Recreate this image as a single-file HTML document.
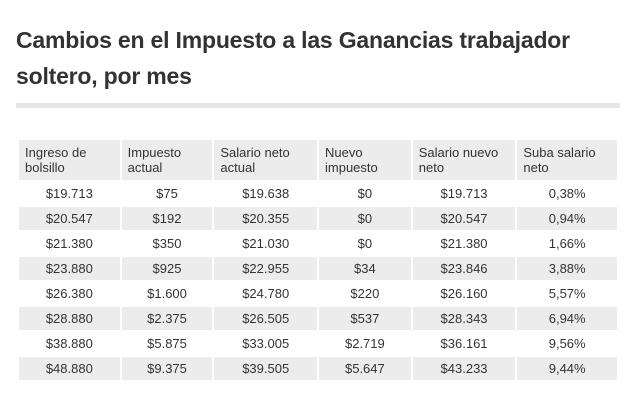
<!DOCTYPE html>
<html><head><meta charset="utf-8"><style>
body{margin:0;background:#fff;width:637px;height:413px;overflow:hidden;font-family:"Liberation Sans",sans-serif;}
h1{position:absolute;left:16px;top:22px;margin:0;font-size:23px;line-height:36px;font-weight:bold;color:#333;width:600px;letter-spacing:-0.2px}
.sep{position:absolute;left:16px;top:103px;width:604px;height:5px;background:#e6e6e6}
table{position:absolute;left:17px;top:138px;width:602px;border-collapse:collapse;font-size:13px;color:#333}
td,th{border:2px solid #fff;padding:0 6px}
th{height:40px;text-align:left;font-weight:normal;background:#ececec;line-height:15px;vertical-align:middle}
td{height:23px;text-align:center}
tr.g td{background:#ececec}
</style></head><body>
<h1>Cambios en el Impuesto a las Ganancias trabajador soltero, por mes</h1>
<div class="sep"></div>
<table>
<colgroup><col style="width:103px"><col style="width:93px"><col style="width:105px"><col style="width:94px"><col style="width:105px"><col style="width:102px"></colgroup>
<thead><tr>
<th>Ingreso de bolsillo</th>
<th>Impuesto actual</th>
<th>Salario neto actual</th>
<th>Nuevo impuesto</th>
<th>Salario nuevo neto</th>
<th>Suba salario neto</th>
</tr></thead>
<tbody id="tb"></tbody>
</table>
<script>
const ingreso=["$19.713","$20.547","$21.380","$23.880","$26.380","$28.880","$38.880","$48.880"];
const impuestoActual=["$75","$192","$350","$925","$1.600","$2.375","$5.875","$9.375"];
const salarioActual=["$19.638","$20.355","$21.030","$22.955","$24.780","$26.505","$33.005","$39.505"];
const nuevoImpuesto=["$0","$0","$0","$34","$220","$537","$2.719","$5.647"];
const salarioNuevo=["$19.713","$20.547","$21.380","$23.846","$26.160","$28.343","$36.161","$43.233"];
const suba=["0,38%","0,94%","1,66%","3,88%","5,57%","6,94%","9,56%","9,44%"];
const tb=document.getElementById('tb');
const cols=[ingreso,impuestoActual,salarioActual,nuevoImpuesto,salarioNuevo,suba];
for(let i=0;i<ingreso.length;i++){
const tr=document.createElement('tr');


if(i%2==1)tr.className='g';
cols.forEach(c=>{const td=document.createElement('td');


td.textContent=c[i];tr.appendChild(td);});
tb.appendChild(tr);}
</script>
</body></html>
